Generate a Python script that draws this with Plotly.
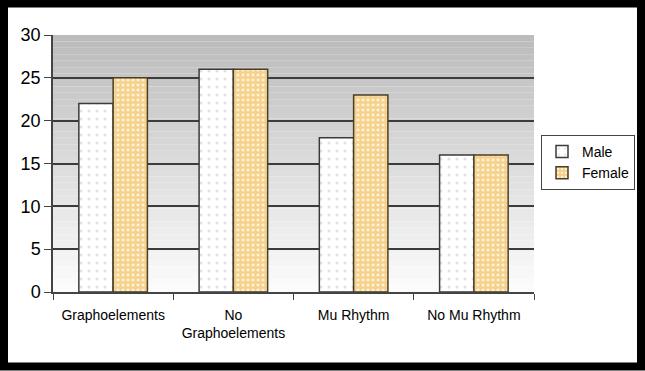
import plotly.graph_objects as go

categories = ["Graphoelements", "No<br>Graphoelements", "Mu Rhythm", "No Mu Rhythm"]
male = [22, 26, 18, 16]
female = [25, 26, 23, 16]
y_ticks = [0, 5, 10, 15, 20, 25, 30]
grid_ticks = [5, 10, 15, 20, 25]

W, H = 645, 371
ML, MR, MT, MB = 53, 111, 35, 79
PW, PH = W - ML - MR, H - MT - MB

def px_x(px):
    return (px - ML) / PW

def px_y(py):
    return (H - MB - py) / PH

fig = go.Figure()
fig.add_bar(
    name="Male", x=categories, y=male,
    marker=dict(color="white", line=dict(color="#3a3a3a", width=1.5),
                pattern=dict(shape=".", fgcolor="#c4c4c4", bgcolor="white", size=8, solidity=0.12)),
)
fig.add_bar(
    name="Female", x=categories, y=female,
    marker=dict(color="#f2c060", line=dict(color="#4a3d28", width=1.5),
                pattern=dict(shape="+", fgcolor="#ecad3e", bgcolor="#fff4d8", size=5, solidity=0.7)),
)
# invisible helper trace on the overlay axis used for the gridlines
fig.add_scatter(x=[categories[0]], y=[0], yaxis="y2", mode="markers",
                marker=dict(opacity=0), showlegend=False, hoverinfo="skip")

shapes = []
n = 40
for i in range(n):
    t = i / (n - 1)
    c0 = (0xbc, 0xbc, 0xbc)
    c1 = (0xfc, 0xfc, 0xfc)
    col = tuple(int(c0[k] + (c1[k] - c0[k]) * t) for k in range(3))
    shapes.append(dict(type="rect", xref="paper", yref="paper", x0=0, x1=1,
                       y0=1 - (i + 1) / n, y1=1 - i / n, layer="below",
                       fillcolor="rgb(%d,%d,%d)" % col, line=dict(width=0)))
shapes.append(dict(type="rect", xref="paper", yref="paper",
                   x0=px_x(4), x1=px_x(641), y0=px_y(366.5), y1=px_y(3.5),
                   line=dict(color="black", width=8), fillcolor="rgba(0,0,0,0)", layer="above"))

fig.update_layout(
    width=W, height=H,
    margin=dict(l=ML, r=MR, t=MT, b=MB, autoexpand=False),
    paper_bgcolor="white", plot_bgcolor="white",
    barmode="group", bargap=0.43, bargroupgap=0,
    font=dict(family="Liberation Sans, Arial, sans-serif", color="black"),
    showlegend=True,
    legend=dict(x=px_x(541), y=px_y(135), xanchor="left", yanchor="top",
                bordercolor="#444444", borderwidth=1, bgcolor="white",
                font=dict(size=14), tracegroupgap=6, itemwidth=30),
    shapes=shapes,
    yaxis=dict(range=[0, 30], tickvals=y_ticks, showline=True, linecolor="#444444",
               linewidth=1.5, ticks="outside", ticklen=7, tickcolor="#444444",
               tickfont=dict(size=18), showgrid=False, zeroline=False),
    yaxis2=dict(overlaying="y", matches="y", tickvals=grid_ticks, showticklabels=False,
                ticks="", showgrid=True, gridcolor="#3c3c3c", gridwidth=1.5,
                zeroline=False, showline=False),
)
fig.update_xaxes(
    showline=True, linecolor="#444444", linewidth=1.5,
    ticks="outside", tickson="boundaries", ticklen=6, tickcolor="#444444",
    tickfont=dict(size=14), showgrid=False, ticklabelstandoff=9,
)

fig.write_html("out.html", config={"displayModeBar": False},
               post_script="document.body.style.margin='0';")
